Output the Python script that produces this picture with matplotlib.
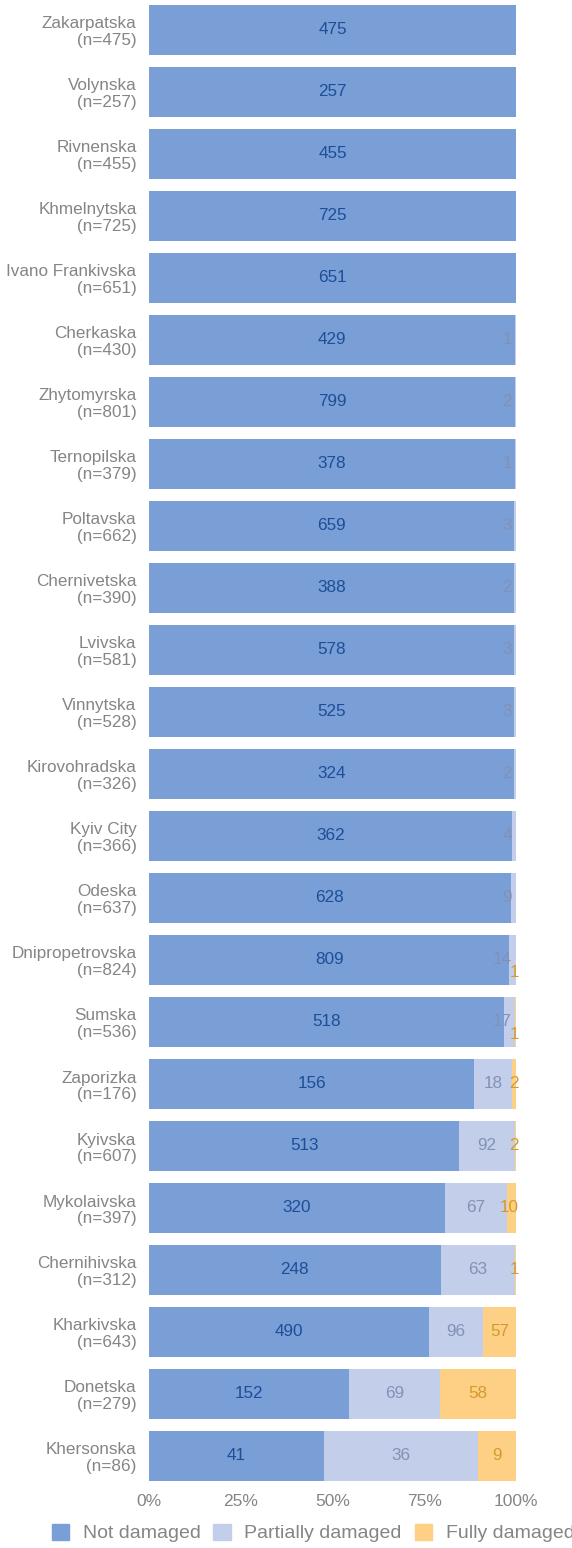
import numpy as np
import matplotlib.pyplot as plt
from matplotlib.patches import Patch

plt.rcParams['font.family'] = ['Liberation Sans', 'DejaVu Sans']

regions = ['Zakarpatska', 'Volynska', 'Rivnenska', 'Khmelnytska', 'Ivano Frankivska',
           'Cherkaska', 'Zhytomyrska', 'Ternopilska', 'Poltavska', 'Chernivetska',
           'Lvivska', 'Vinnytska', 'Kirovohradska', 'Kyiv City', 'Odeska',
           'Dnipropetrovska', 'Sumska', 'Zaporizka', 'Kyivska', 'Mykolaivska',
           'Chernihivska', 'Kharkivska', 'Donetska', 'Khersonska']
not_damaged = [475, 257, 455, 725, 651, 429, 799, 378, 659, 388, 578, 525, 324,
               362, 628, 809, 518, 156, 513, 320, 248, 490, 152, 41]
partially = [0, 0, 0, 0, 0, 1, 2, 1, 3, 2, 3, 3, 2, 4, 9, 14, 17, 18, 92, 67, 63, 96, 69, 36]
fully = [0, 0, 0, 0, 0, 0, 0, 0, 0, 0, 0, 0, 0, 0, 0, 1, 1, 2, 2, 10, 1, 57, 58, 9]

c_not = '#7A9ED6'
c_part = '#C3CEEA'
c_full = '#FDD086'
t_not = '#1C4F99'
t_part = '#8291B5'
t_full = '#D49B2C'
gray = '#858585'

nd = np.array(not_damaged, float)
pa = np.array(partially, float)
fu = np.array(fully, float)
n = nd + pa + fu
p_nd = nd / n * 100
p_pa = pa / n * 100
p_fu = fu / n * 100
y = np.arange(len(regions))

fig = plt.figure(figsize=(5.72, 15.48), dpi=100)
# rows are 62 px apart, first row centred at y = 30 px
ax = fig.add_axes([149 / 572, 61 / 1548, 367 / 572, 1488 / 1548])

ax.barh(y, p_nd, height=0.8, color=c_not, edgecolor='none')
ax.barh(y, p_pa, left=p_nd, height=0.8, color=c_part, edgecolor='none')
ax.barh(y, p_fu, left=p_nd + p_pa, height=0.8, color=c_full, edgecolor='none')

fs = 12.3
dig = 2.6  # approx width of one digit in % units
for i in range(len(regions)):
    ax.text(p_nd[i] / 2, i, str(not_damaged[i]), ha='center', va='center',
            color=t_not, fontsize=fs)
    if pa[i] > 0:
        s = str(partially[i])
        x = p_nd[i] + p_pa[i] / 2
        x = min(x, 98.9 - len(s) * dig / 2)
        ax.text(x, i, s, ha='center', va='center', color=t_part, fontsize=fs)
    if fu[i] > 0:
        s = str(fully[i])
        x = p_nd[i] + p_pa[i] + p_fu[i] / 2
        x = min(x, 100.8 - len(s) * dig / 2)
        dy = 0.2 if p_pa[i] < 5 else 0
        ax.text(x, i + dy, s, ha='center', va='center', color=t_full, fontsize=fs)

ax.set_xlim(0, 100)
ax.set_ylim(len(regions) - 0.5, -0.5)
ax.set_xticks([0, 25, 50, 75, 100])
ax.set_xticklabels(['0%', '25%', '50%', '75%', '100%'])
ax.set_yticks(y)
ax.set_yticklabels([f'{r}\n(n={int(v)})' for r, v in zip(regions, n)], linespacing=1.1)
ax.tick_params(axis='both', length=0, colors=gray, labelsize=fs)
ax.tick_params(axis='x', pad=5, labelsize=12.5)
ax.tick_params(axis='y', pad=9)
for sp in ax.spines.values():
    sp.set_visible(False)

handles = [Patch(color=c_not), Patch(color=c_part), Patch(color=c_full)]
leg = fig.legend(handles, ['Not damaged', 'Partially damaged', 'Fully damaged'],
                 loc='center', bbox_to_anchor=(313 / 572, 1 - 1533 / 1548), ncol=3,
                 frameon=False, fontsize=14, handlelength=0.91, handleheight=0.91,
                 handletextpad=0.68, columnspacing=0.67, borderaxespad=0, borderpad=0)
for t in leg.get_texts():
    t.set_color(gray)

fig.savefig('out.png', dpi=100)
